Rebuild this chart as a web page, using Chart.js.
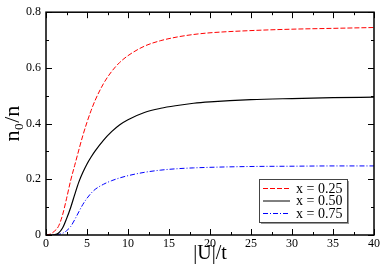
<!DOCTYPE html>
<html>
<head>
<meta charset="utf-8">
<script src="https://cdn.jsdelivr.net/npm/chart.js@4.4.0/dist/chart.umd.min.js"></script>
<style>
  html, body { margin: 0; padding: 0; background: #fff; }
  #wrap { width: 382px; height: 266px; }
</style>
</head>
<body>
<div id="wrap"><canvas id="chart"></canvas></div>
<script>
// |U|/t sample points
const uValues = [0, 0.5, 1, 1.5, 2, 2.5, 3, 3.5, 4, 4.5, 5, 5.5, 6, 7, 8, 9, 10, 12, 14, 16, 18, 20, 25, 30, 35, 40];

// n0/n for each filling
const x025 = [0, 0.003, 0.013, 0.03, 0.07, 0.13, 0.195, 0.25, 0.305, 0.358, 0.405, 0.447, 0.484, 0.543, 0.587, 0.62, 0.644, 0.678, 0.698, 0.711, 0.72, 0.726, 0.734, 0.739, 0.742, 0.745];
const x050 = [0, 0, 0.001, 0.006, 0.024, 0.058, 0.098, 0.145, 0.19, 0.225, 0.255, 0.28, 0.302, 0.34, 0.371, 0.396, 0.414, 0.44, 0.455, 0.465, 0.473, 0.478, 0.486, 0.49, 0.493, 0.495];
const x075 = [0, 0, 0, 0.002, 0.006, 0.015, 0.03, 0.055, 0.083, 0.11, 0.132, 0.15, 0.164, 0.182, 0.195, 0.205, 0.213, 0.225, 0.233, 0.238, 0.241, 0.243, 0.246, 0.247, 0.248, 0.248];

const seriesLabels = ['x = 0.25', 'x = 0.50', 'x = 0.75'];
const xTicks = [0, 5, 10, 15, 20, 25, 30, 35, 40];
const yTicks = [0, 0.2, 0.4, 0.6, 0.8];

const serif = "'Liberation Serif', 'DejaVu Serif', serif";

function toPoints(ys) {
    return uValues.map((u, i) => ({ x: u, y: ys[i] }));
}

// inward ticks on all four sides + frame
const frameTicks = {
    id: 'frameTicks',
    afterDraw(chart) {
        const c = chart.ctx;
        const a = chart.chartArea;
        const xs = chart.scales.x, ys = chart.scales.y;
        c.save();
        c.strokeStyle = '#000';
        c.lineWidth = 1;
        c.beginPath();
        for (let v = 0; v <= 40.001; v += 2.5) {
            const px = Math.round(xs.getPixelForValue(v)) + 0.5;
            const len = (v % 5 === 0) ? 6 : 3;
            c.moveTo(px, a.bottom); c.lineTo(px, a.bottom - len);
            c.moveTo(px, a.top); c.lineTo(px, a.top + len);
        }
        for (let k = 0; k <= 8; k++) {
            const py = Math.round(ys.getPixelForValue(k / 10)) + 0.5;
            const len = (k % 2 === 0) ? 6 : 3;
            c.moveTo(a.left, py); c.lineTo(a.left + len, py);
            c.moveTo(a.right, py); c.lineTo(a.right - len, py);
        }
        c.stroke();
        c.lineWidth = 1.5;
        c.strokeRect(a.left, a.top, a.right - a.left, a.bottom - a.top);
        c.restore();
    }
};

// legend box inside the plot
const boxLegend = {
    id: 'boxLegend',
    afterDraw(chart) {
        const c = chart.ctx;
        const bx = 259, by = 179, bw = 88, bh = 43;
        c.save();
        c.fillStyle = '#999';
        c.fillRect(bx + 2, by + 2, bw, bh);
        c.fillStyle = '#fff';
        c.fillRect(bx, by, bw, bh);
        c.strokeStyle = '#444';
        c.lineWidth = 1;
        c.strokeRect(bx + 0.5, by + 0.5, bw, bh);
        c.font = '14px ' + serif;
        c.textBaseline = 'middle';
        chart.data.datasets.forEach((ds, i) => {
            const ly = by + 9.5 + i * 12.5;
            c.strokeStyle = ds.borderColor;
            c.lineWidth = 1;
            c.setLineDash(ds.borderDash || []);
            c.beginPath();
            c.moveTo(bx + 4, ly); c.lineTo(bx + 31, ly);
            c.stroke();
            c.setLineDash([]);
            c.fillStyle = '#000';
            c.fillText(ds.label, bx + 37, ly + 0.5);
        });
        c.restore();
    }
};

const ctx = document.getElementById('chart').getContext('2d');
const chart = new Chart(ctx, {
    type: 'line',
    data: {
        datasets: [{
            label: seriesLabels[0],
            data: toPoints(x025),
            borderColor: '#ff0000',
            borderDash: [5, 2],
            borderWidth: 1,
            pointRadius: 0,
            cubicInterpolationMode: 'monotone',
            fill: false
        }, {
            label: seriesLabels[1],
            data: toPoints(x050),
            borderColor: '#000000',
            borderWidth: 1.2,
            pointRadius: 0,
            cubicInterpolationMode: 'monotone',
            fill: false
        }, {
            label: seriesLabels[2],
            data: toPoints(x075),
            borderColor: '#0000ff',
            borderDash: [5, 2, 1, 2],
            borderWidth: 1,
            pointRadius: 0,
            cubicInterpolationMode: 'monotone',
            fill: false
        }]
    },
    options: {
        responsive: true,
        maintainAspectRatio: false,
        animation: false,
        layout: { padding: { top: 5, right: 6, left: 0, bottom: 0 } },
        plugins: {
            legend: { display: false },
            tooltip: { enabled: false }
        },
        scales: {
            x: {
                type: 'linear',
                min: 0,
                max: 40,
                afterBuildTicks(s) { s.ticks = xTicks.map(v => ({ value: v })); },
                afterFit(s) { s.height = 31; },
                grid: { display: false, drawTicks: false },
                border: { display: false },
                ticks: {
                    color: '#000',
                    padding: 2,
                    maxRotation: 0,
                    font: { family: serif, size: 12 }
                },
                title: {
                    display: true,
                    text: '|U|/t',
                    color: '#000',
                    padding: 0,
                    font: { family: serif, size: 20 }
                }
            },
            y: {
                min: 0,
                max: 0.8,
                afterBuildTicks(s) { s.ticks = yTicks.map(v => ({ value: v })); },
                afterFit(s) { s.width = 46; },
                grid: { display: false, drawTicks: false },
                border: { display: false },
                ticks: {
                    color: '#000',
                    padding: 5,
                    font: { family: serif, size: 12 },
                    callback: v => String(Math.round(v * 10) / 10)
                },
                title: {
                    display: true,
                    text: 'n₀/n',
                    color: '#000',
                    padding: 0,
                    font: { family: serif, size: 22 }
                }
            }
        }
    },
    plugins: [frameTicks, boxLegend]
});
</script>
</body>
</html>
